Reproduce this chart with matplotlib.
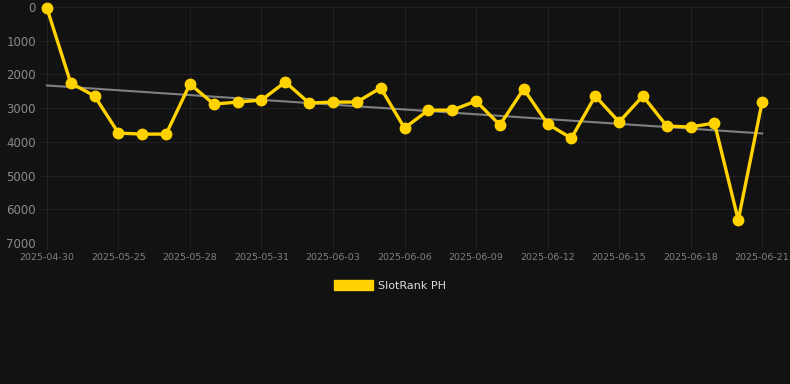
import numpy as np
import matplotlib.pyplot as plt
from matplotlib.patches import Patch

# daily rank values (lower is better, axis is inverted)
dates = ["2025-04-30", "2025-05-23", "2025-05-24", "2025-05-25", "2025-05-26", "2025-05-27",
         "2025-05-28", "2025-05-29", "2025-05-30", "2025-05-31", "2025-06-01", "2025-06-02",
         "2025-06-03", "2025-06-04", "2025-06-05", "2025-06-06", "2025-06-07", "2025-06-08",
         "2025-06-09", "2025-06-10", "2025-06-11", "2025-06-12", "2025-06-13", "2025-06-14",
         "2025-06-15", "2025-06-16", "2025-06-17", "2025-06-18", "2025-06-19", "2025-06-20",
         "2025-06-21"]
ranks = [30, 2255, 2640, 3740, 3770, 3770, 2285, 2880, 2820, 2760, 2225, 2850, 2820, 2820,
         2400, 3590, 3060, 3060, 2790, 3500, 2430, 3470, 3890, 2640, 3410, 2640, 3530, 3560,
         3440, 6320, 2820]
yticks = [0, 1000, 2000, 3000, 4000, 5000, 6000, 7000]

bg = "#121212"
gold = "#FFD200"

fig = plt.figure(figsize=(7.9, 3.84), dpi=100, facecolor=bg)
ax = fig.add_axes([40/790, (384-243)/384, 750/790, 236/384], facecolor=bg)

x = np.arange(len(ranks))
ax.plot(x, ranks, color=gold, lw=2.4, marker="o", ms=7.5, clip_on=False, zorder=3)

# trend line
k, b = np.polyfit(x, ranks, 1)
ax.plot(x, k*x + b, color="#808080", lw=1.5, zorder=2)

ax.set_ylim(7000, 0)
ax.set_xlim(-0.29, 31.17)
ax.set_yticks(yticks)
ax.set_xticks(x[::3])
ax.set_xticklabels(dates[::3])
ax.grid(True, color="#212121", lw=0.8)
for s in ax.spines.values():
    s.set_visible(False)
ax.tick_params(axis="y", length=0, colors="#8a8a8a", labelsize=8.5, pad=3)
ax.tick_params(axis="x", length=4, color="#212121", colors="#808080", labelsize=6.8, pad=3)
ax.axhline(7000, color="#2a2a2a", lw=1)

ax.legend(handles=[Patch(color=gold, label="SlotRank PH")], loc="upper center",
          bbox_to_anchor=(0.467, -0.115), frameon=False, fontsize=8,
          handlelength=3.5, handleheight=1.0, handletextpad=0.5, labelcolor="#dddddd")

fig.savefig("out.png", dpi=100, facecolor=bg)
